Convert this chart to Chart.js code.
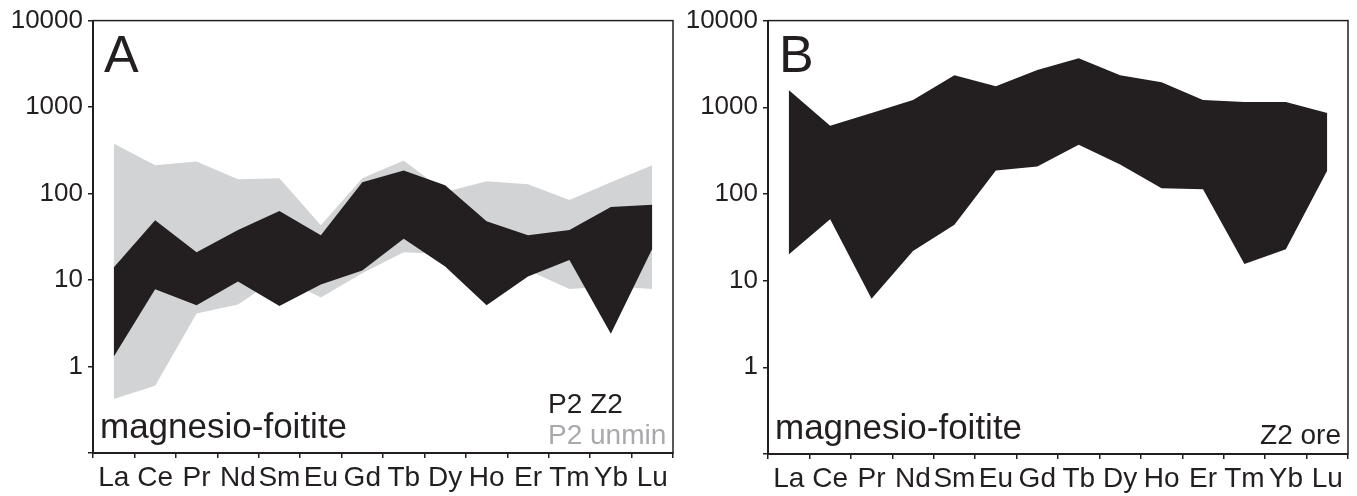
<!DOCTYPE html>
<html>
<head>
<meta charset="utf-8">
<script src="https://cdn.jsdelivr.net/npm/chart.js@4.4.1/dist/chart.umd.min.js"></script>
<style>
  body { margin: 0; background: #fff; }
  .panel { position: absolute; top: 0; }
</style>
</head>
<body>
<canvas id="chartA" class="panel" style="left:0px" width="676" height="496"></canvas>
<canvas id="chartB" class="panel" style="left:676px" width="681" height="496"></canvas>
<script>
// REE (chondrite-normalised) ranges
const ree = ['La', 'Ce', 'Pr', 'Nd', 'Sm', 'Eu', 'Gd', 'Tb', 'Dy', 'Ho', 'Er', 'Tm', 'Yb', 'Lu'];
const yTicks = [0.1, 1, 10, 100, 1000, 10000];

// panel A
const p2z2Max = [14, 49, 21, 38, 63, 33, 135, 185, 125, 48, 33, 38, 70, 74];
const p2z2Min = [1.3, 7.8, 5.1, 9.6, 5.0, 8.9, 12.9, 30, 14.3, 5.1, 11, 17, 2.4, 23];
const p2UnminMax = [380, 212, 235, 146, 150, 43, 150, 241, 104, 139, 128, 84, 135, 212];
const p2UnminMin = [0.42, 0.6, 4.1, 5.2, 11, 6.3, 12, 21, 20, 15, 13, 7.9, 8.5, 7.9];

// panel B
const z2OreMax = [1580, 611, 860, 1213, 2340, 1750, 2700, 3670, 2340, 1950, 1210, 1150, 1150, 860];
const z2OreMin = [20, 51, 6.2, 22, 44, 186, 207, 370, 218, 116, 113, 15.6, 23, 186];

const BLACK = '#231f20';
const GREY = '#d1d3d4';
const GREY_TEXT = '#a7a9ac';
const FONT = "'Liberation Sans', Arial, Helvetica, sans-serif";

function band(upper, lower, color) {
  return [
    { data: upper, fill: '+1', backgroundColor: color, borderColor: 'rgba(0,0,0,0)', borderWidth: 0, pointRadius: 0, tension: 0 },
    { data: lower, fill: false, backgroundColor: color, borderColor: 'rgba(0,0,0,0)', borderWidth: 0, pointRadius: 0, tension: 0 }
  ];
}

// frame + panel texts
const panelText = {
  id: 'panelText',
  afterDraw(chart, args, opts) {
    const { ctx, chartArea: a } = chart;
    ctx.save();
    ctx.strokeStyle = BLACK;
    ctx.lineWidth = 1.5;
    ctx.strokeRect(a.left, a.top, a.right - a.left, a.bottom - a.top);

    ctx.textBaseline = 'alphabetic';
    ctx.fillStyle = BLACK;
    ctx.textAlign = 'left';
    ctx.font = '52px ' + FONT;
    ctx.fillText(opts.letter, a.left + 11, a.top + 51);
    ctx.font = '35px ' + FONT;
    ctx.fillText('magnesio-foitite', a.left + 7, a.bottom - 15);

    ctx.font = '28px ' + FONT;
    (opts.legend || []).forEach(l => {
      ctx.fillStyle = l.color;
      ctx.textAlign = l.align;
      ctx.fillText(l.text, a.right - l.dx, a.bottom - l.dy);
    });
    ctx.restore();
  }
};

function makeOptions(yWidth, xHeight, padRight, textOpts) {
  return {
    responsive: false,
    animation: false,
    layout: { padding: { top: 17, right: padRight, left: 0, bottom: 0 } },
    plugins: { legend: { display: false }, tooltip: { enabled: false }, panelText: textOpts },
    scales: {
      x: {
        type: 'category',
        offset: true,
        afterFit: s => { s.height = xHeight; },
        grid: { offset: true, drawOnChartArea: false, tickLength: 5, color: BLACK, lineWidth: 1.5 },
        border: { color: BLACK, width: 2 },
        ticks: { color: BLACK, font: { family: FONT, size: 28 }, padding: 3, autoSkip: false, maxRotation: 0 }
      },
      y: {
        type: 'logarithmic',
        min: 0.1,
        max: 10000,
        afterFit: s => { s.width = yWidth; },
        afterBuildTicks: s => { s.ticks = yTicks.map(v => ({ value: v })); },
        grid: { drawOnChartArea: false, tickLength: 5, color: BLACK, lineWidth: 1.5 },
        border: { color: BLACK, width: 2 },
        ticks: { color: BLACK, font: { family: FONT, size: 26 }, padding: 5,
                 callback: v => (v < 1 ? '' : String(v)) }
      }
    }
  };
}

new Chart(document.getElementById('chartA'), {
  type: 'line',
  data: {
    labels: ree,
    datasets: [...band(p2z2Max, p2z2Min, BLACK), ...band(p2UnminMax, p2UnminMin, GREY)]
  },
  options: makeOptions(93, 43, 3, {
    letter: 'A',
    legend: [
      { text: 'P2 Z2', color: BLACK, align: 'left', dx: 125, dy: 40 },
      { text: 'P2 unmin', color: GREY_TEXT, align: 'left', dx: 125, dy: 9 }
    ]
  }),
  plugins: [panelText]
});

new Chart(document.getElementById('chartB'), {
  type: 'line',
  data: {
    labels: ree,
    datasets: band(z2OreMax, z2OreMin, BLACK)
  },
  options: makeOptions(92, 42, 9, {
    letter: 'B',
    legend: [
      { text: 'Z2 ore', color: BLACK, align: 'right', dx: 7, dy: 10 }
    ]
  }),
  plugins: [panelText]
});
</script>
</body>
</html>
